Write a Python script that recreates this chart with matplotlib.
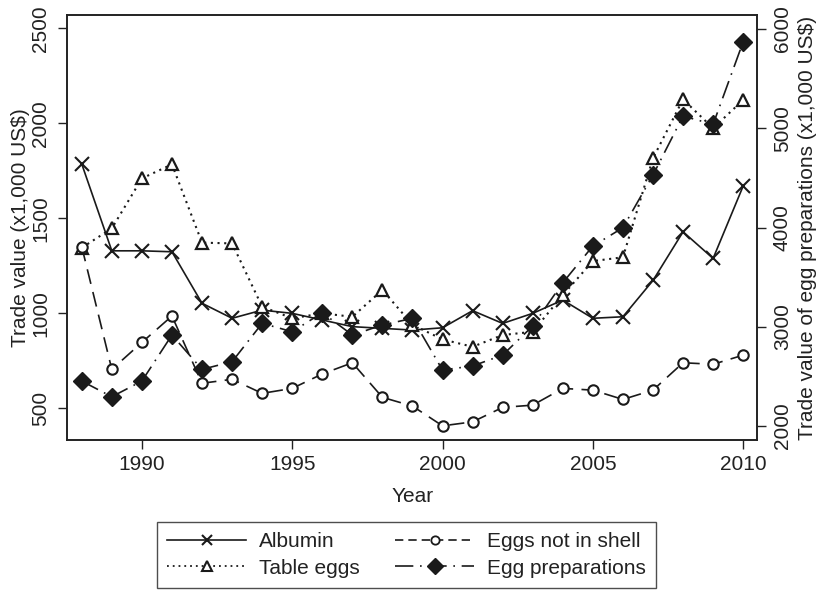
"""Egg product trade values, 1988-2010, two y axes."""

import matplotlib
matplotlib.use('Agg')
import matplotlib.pyplot as plt
from matplotlib.lines import Line2D

years = list(range(1988, 2011))

albumin = [1786, 1329, 1329, 1324, 1053, 974, 1017, 1000, 965, 930, 921, 912,
           924, 1014, 947, 1000, 1070, 974, 982, 1173, 1429, 1289, 1670]
table_eggs = [1345, 1447, 1710, 1784, 1372, 1368, 1035, 974, 1000, 982, 1123, 940,
              863, 824, 886, 903, 1096, 1275, 1295, 1816, 2126, 1974, 2123]
eggs_not_in_shell = [1351, 705, 847, 986, 632, 653, 579, 605, 681, 740, 558, 512,
                     408, 429, 505, 517, 605, 596, 547, 596, 740, 732, 780]
# right axis
egg_preparations = [2453, 2295, 2453, 2917, 2571, 2648, 3035, 2950, 3142, 2917, 3018, 3085,
                    2564, 2605, 2715, 3008, 3444, 3814, 3998, 4529, 5123, 5040, 5872]

x_ticks = [1990, 1995, 2000, 2005, 2010]
left_ticks = [500, 1000, 1500, 2000, 2500]
right_ticks = [2000, 3000, 4000, 5000, 6000]

plt.rcParams['font.family'] = ['Liberation Sans', 'DejaVu Sans']
plt.rcParams['font.size'] = 15

fig = plt.figure(figsize=(8.16, 5.91), dpi=100)
ax = fig.add_axes([0.0825, 0.2563, 0.8452, 0.7177])
ax2 = ax.twinx()

col = '#1a1a1a'
lw = 1.2

ax.plot(years, albumin, color=col, lw=lw, ls='-', marker='x', ms=10, mew=1.5,
        label='Albumin')
ax.plot(years, table_eggs, color=col, lw=1.5, ls=(0, (1, 2.2)), marker='^', ms=8.5,
        mfc='white', mew=1.6, label='Table eggs')
ax.plot(years, eggs_not_in_shell, color=col, lw=lw, ls=(0, (9, 5)), marker='o', ms=7.5,
        mfc='white', mew=1.5, label='Eggs not in shell')
ax2.plot(years, egg_preparations, color=col, lw=lw, ls=(0, (11, 4, 1, 4)), marker='D',
         ms=9, mfc=col, mew=1.0, label='Egg preparations')

ax.set_xlim(1987.52, 2010.46)
ax.set_ylim(336, 2568)
ax2.set_ylim(1864, 6138)

ax.set_xticks(x_ticks)
ax.set_yticks(left_ticks)
ax2.set_yticks(right_ticks)

for a in (ax, ax2):
    for s in a.spines.values():
        s.set_linewidth(1.2)
        s.set_color('#222222')
ax.tick_params(axis='both', direction='out', length=6.5, width=1.0, color='#222222',
               labelcolor='#222222')
ax.tick_params(axis='x', pad=5)
ax.tick_params(axis='y', labelrotation=90, pad=6)
ax2.tick_params(axis='y', direction='out', length=6.5, width=1.0, color='#222222',
                labelcolor='#222222', labelrotation=90, pad=5)
for lab in ax.get_yticklabels() + ax2.get_yticklabels():
    lab.set_va('center')

ax.set_xlabel('Year', color='#222222', labelpad=9)
ax.set_ylabel('Trade value (x1,000 US$)', color='#222222', labelpad=1)
ax2.set_ylabel('Trade value of egg preparations (x1,000 US$)', color='#222222',
               labelpad=4)

handles = [
    Line2D([], [], color=col, lw=lw, marker='x', ms=7, mew=1.5),
    Line2D([], [], color=col, lw=1.3, ls=(0, (1, 2.2)), marker='^', ms=6.5,
           mfc='white', mew=1.5),
    Line2D([], [], color=col, lw=lw, ls=(0, (5, 3)), marker='o', ms=6,
           mfc='white', mew=1.3),
    Line2D([], [], color=col, lw=lw, ls=(0, (11, 4, 1, 4)), marker='D', ms=8,
           mfc=col),
]
labels = ['Albumin', 'Table eggs', 'Eggs not in shell', 'Egg preparations']
leg = fig.legend(handles, labels, ncol=2, loc='lower center',
                 bbox_to_anchor=(0.498, 0.005), frameon=True, fancybox=False,
                 edgecolor='#222222', handlelength=3.8, handletextpad=0.6,
                 columnspacing=1.7, labelspacing=0.35, borderpad=0.5,
                 borderaxespad=0.0)
leg.get_frame().set_linewidth(1.0)
for t in leg.get_texts():
    t.set_color('#222222')

fig.savefig('out.png', dpi=100)
